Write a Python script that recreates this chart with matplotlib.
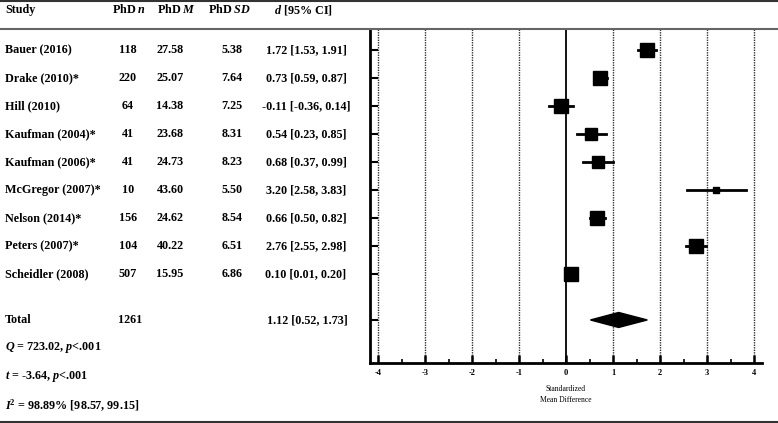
import matplotlib
matplotlib.use("Agg")
import matplotlib.pyplot as plt
import matplotlib.transforms as mtransforms
from matplotlib.patches import Polygon
import numpy as np

plt.rcParams["font.family"] = "Liberation Serif"
plt.rcParams["font.weight"] = "bold"
plt.rcParams["mathtext.fontset"] = "custom"
plt.rcParams["mathtext.rm"] = "Liberation Serif:bold"
plt.rcParams["mathtext.bf"] = "Liberation Serif:bold"
plt.rcParams["mathtext.it"] = "Liberation Serif:italic:bold"
plt.rcParams["mathtext.bfit"] = "Liberation Serif:italic:bold"

# --- datos ---
estudios = ["Bauer (2016)", "Drake (2010)*", "Hill (2010)", "Kaufman (2004)*",
            "Kaufman (2006)*", "McGregor (2007)*", "Nelson (2014)*",
            "Peters (2007)*", "Scheidler (2008)"]
phd_n = [118, 220, 64, 41, 41, 10, 156, 104, 507]
phd_m = [27.58, 25.07, 14.38, 23.68, 24.73, 43.60, 24.62, 40.22, 15.95]
phd_sd = [5.38, 7.64, 7.25, 8.31, 8.23, 5.50, 8.54, 6.51, 6.86]
d = [1.72, 0.73, -0.11, 0.54, 0.68, 3.20, 0.66, 2.76, 0.10]
ci_lo = [1.53, 0.59, -0.36, 0.23, 0.37, 2.58, 0.50, 2.55, 0.01]
ci_hi = [1.91, 0.87, 0.14, 0.85, 0.99, 3.83, 0.82, 2.98, 0.20]
peso = [13.6, 13.6, 11.9, 10.2, 10.2, 3.0, 13.6, 11.9, 11.9]  # % (estimado)
total_n = 1261
total_d, total_lo, total_hi = 1.12, 0.52, 1.73
estadisticos = [r"$\mathbfit{Q}$ = 723.02, $\mathbfit{p}$<.001",
                r"$\mathbfit{t}$ = -3.64, $\mathbfit{p}$<.001",
                r"$\mathbfit{I}^{2}$ = 98.89% [98.57, 99.15]"]
xticks = [-4, -3, -2, -1, 0, 1, 2, 3, 4]

W, H = 778, 423
fig = plt.figure(figsize=(W / 100, H / 100), dpi=100)
ax = fig.add_axes([370 / W, 60 / H, 392 / W, 334 / H])

filas = np.arange(len(estudios))
y_total = 8 + 46 / 28

# rejilla vertical
for xv in xticks:
    if xv == 0:
        ax.axvline(0, color="black", lw=1.3, zorder=1)
    else:
        ax.axvline(xv, color="#333333", lw=1.0, ls=(0, (1, 0.8)), zorder=1)

# estudios
for i in filas:
    ax.plot([ci_lo[i], ci_hi[i]], [i, i], color="black", lw=2, zorder=2)
    ax.plot(d[i], i, marker="s", color="black", ms=2.9 * np.sqrt(peso[i]),
            zorder=3)

# diamante del total
h = 7.5 / 28
ax.add_patch(Polygon([(total_lo, y_total), (total_d, y_total - h),
                      (total_hi, y_total), (total_d, y_total + h)],
                     closed=True, color="black", zorder=3))

ax.set_xlim(-4 - 8 / 47, 4 + 8 / 47)
ax.set_ylim(11.18, -0.75)
ax.set_xticks(xticks)
ax.set_xticks(np.arange(-3.5, 4, 1), minor=True)
ax.set_xticklabels([str(x) for x in xticks], fontsize=6)
ax.set_yticks(list(filas) + [y_total])
ax.set_yticklabels([])
ax.tick_params(axis="x", which="major", direction="in", length=6, width=1.8, pad=4)
ax.tick_params(axis="x", which="minor", direction="in", length=3, width=1.2)
ax.tick_params(axis="y", which="major", direction="in", length=6, width=1.5)
for s in ["top", "right"]:
    ax.spines[s].set_visible(False)
for s in ["left", "bottom"]:
    ax.spines[s].set_linewidth(2)
ax.set_xlabel("Standardized\nMean Difference", fontsize=5.5, labelpad=6,
              linespacing=1.5)

# tabla de texto
tr = mtransforms.blended_transform_factory(fig.transFigure, ax.transData)
fs = 8.7
def px(x):
    return x / W

y_head = -1.43
fig.text(px(5), y_head, "Study", transform=tr, fontsize=fs, va="center")
fig.text(px(129), y_head, r"PhD $\mathbfit{n}$", transform=tr, fontsize=fs,
         va="center", ha="center")
fig.text(px(177), y_head, r"PhD $\mathbfit{M}$", transform=tr, fontsize=fs,
         va="center", ha="center")
fig.text(px(230), y_head, r"PhD $\mathbfit{SD}$", transform=tr, fontsize=fs,
         va="center", ha="center")
fig.text(px(304), y_head, r"$\mathbfit{d}$ [95% CI]", transform=tr, fontsize=fs,
         va="center", ha="center")

for i in filas:
    fig.text(px(5), i, estudios[i], transform=tr, fontsize=fs, va="center")
    fig.text(px(128), i, str(phd_n[i]), transform=tr, fontsize=fs,
             va="center", ha="center")
    fig.text(px(170), i, f"{phd_m[i]:.2f}", transform=tr, fontsize=fs,
             va="center", ha="center")
    fig.text(px(232), i, f"{phd_sd[i]:.2f}", transform=tr, fontsize=fs,
             va="center", ha="center")
    fig.text(px(306), i, f"{d[i]:.2f} [{ci_lo[i]:.2f}, {ci_hi[i]:.2f}]",
             transform=tr, fontsize=fs, va="center", ha="center")

fig.text(px(5), y_total, "Total", transform=tr, fontsize=fs, va="center")
fig.text(px(130), y_total, str(total_n), transform=tr, fontsize=fs,
         va="center", ha="center")
fig.text(px(307), y_total, f"{total_d:.2f} [{total_lo:.2f}, {total_hi:.2f}]",
         transform=tr, fontsize=fs, va="center", ha="center")

for k, txt in enumerate(estadisticos):
    yk = (348 + 29 * k - 50) / 28
    fig.text(px(5), yk, txt, transform=tr, fontsize=fs, va="center")

# lineas horizontales de la tabla
for ypx, c in [(1, "#333333"), (29, "#666666"), (422, "#333333")]:
    fig.add_artist(plt.Line2D([0, 1], [1 - ypx / H, 1 - ypx / H],
                              transform=fig.transFigure, color=c, lw=1.5))

fig.savefig("out.png", dpi=100)
